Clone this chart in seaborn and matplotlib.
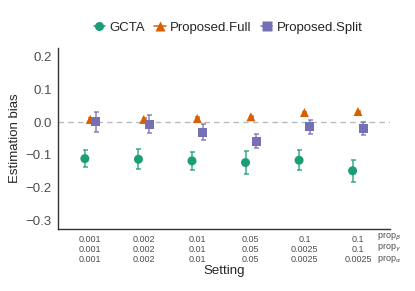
import numpy as np
import pandas as pd
import matplotlib
matplotlib.use("Agg")
import matplotlib.pyplot as plt
from matplotlib.lines import Line2D
import seaborn as sns

# values
settings = ["0.001\n0.001\n0.001", "0.002\n0.002\n0.002", "0.01\n0.01\n0.01",
            "0.05\n0.05\n0.05", "0.1\n0.0025\n0.0025", "0.1\n0.1\n0.0025"]
row_labels = [r"prop$_\beta$", r"prop$_\gamma$", r"prop$_\alpha$"]
methods = ["GCTA", "Proposed.Full", "Proposed.Split"]
gcta_bias = [-0.111, -0.113, -0.118, -0.123, -0.116, -0.148]
gcta_err = [0.027, 0.031, 0.028, 0.035, 0.031, 0.034]
full_bias = [0.008, 0.008, 0.011, 0.016, 0.029, 0.032]
full_err = [0.003, 0.003, 0.003, 0.003, 0.003, 0.003]
split_bias = [0.001, -0.006, -0.031, -0.058, -0.014, -0.020]
split_err = [0.030, 0.027, 0.024, 0.021, 0.021, 0.020]

sns.set_style("white")
plt.rcParams['font.family'] = ['Liberation Sans', 'DejaVu Sans']

colors = {"GCTA": "#1B9E77", "Proposed.Full": "#D95F02", "Proposed.Split": "#7570B3"}
markers = {"GCTA": "o", "Proposed.Full": "^", "Proposed.Split": "s"}
offsets = {"GCTA": -0.1, "Proposed.Full": 0.0, "Proposed.Split": 0.1}

rows = []
for m, b, e in zip(methods, [gcta_bias, full_bias, split_bias], [gcta_err, full_err, split_err]):
    for i in range(len(settings)):
        rows.append({"Method": m, "x": i + offsets[m], "bias": b[i], "err": e[i]})
df = pd.DataFrame(rows)

fig = plt.figure(figsize=(4.15, 2.91), dpi=100)
ax = fig.add_axes([0.14, 0.213, 0.80, 0.622])

ax.axhline(0, color="#BBBBBB", linestyle=(0, (4, 3)), linewidth=1, zorder=0)

for m in methods:
    sub = df[df["Method"] == m]
    ax.errorbar(sub["x"], sub["bias"], yerr=sub["err"], fmt="none",
                ecolor=colors[m], elinewidth=1.1, capsize=1.8, capthick=1.1,
                alpha=0.85, zorder=2)

sns.scatterplot(data=df, x="x", y="bias", hue="Method", style="Method",
                palette=colors, markers=markers, hue_order=methods,
                style_order=methods, s=42, edgecolor="none", ax=ax, zorder=3)
ax.get_legend().remove()

ax.set_xlim(-0.6, 5.6)
ax.set_ylim(-0.325, 0.225)
ax.set_xticks(range(len(settings)))
ax.set_xticklabels(settings, fontsize=6.5, color="#4D4D4D", linespacing=1.2)
ax.set_yticks([-0.3, -0.2, -0.1, 0.0, 0.1, 0.2])
ax.set_yticklabels(["\u22120.3", "\u22120.2", "\u22120.1", "0.0", "0.1", "0.2"],
                   fontsize=9.5, color="#4D4D4D")
ax.tick_params(axis="both", length=2.5, width=0.8, color="#333333", pad=2)
ax.tick_params(axis="x", pad=1.5)
for s in ["top", "right"]:
    ax.spines[s].set_visible(False)
for s in ["left", "bottom"]:
    ax.spines[s].set_color("#333333")
    ax.spines[s].set_linewidth(1.0)

ax.set_xlabel("Setting", fontsize=9.5, labelpad=0.5)
ax.set_ylabel("Estimation bias", fontsize=9.5, labelpad=3)

# row labels for the three-line tick labels
for k, lab in enumerate(row_labels):
    fig.text(0.908, 1 - (237 + 11 * k) / 291, lab, fontsize=6.5, color="#4D4D4D",
             va="center", ha="left")

handles = [Line2D([0], [0], color=colors[m], marker=markers[m], markersize=6.5,
                  linewidth=1.1, markeredgecolor="none") for m in methods]
fig.legend(handles, methods, loc="center", bbox_to_anchor=(0.55, 0.905), ncol=3,
           frameon=False, fontsize=9.5, handletextpad=0.35, columnspacing=0.7,
           handlelength=0.85)

fig.savefig("out.png", dpi=100)
